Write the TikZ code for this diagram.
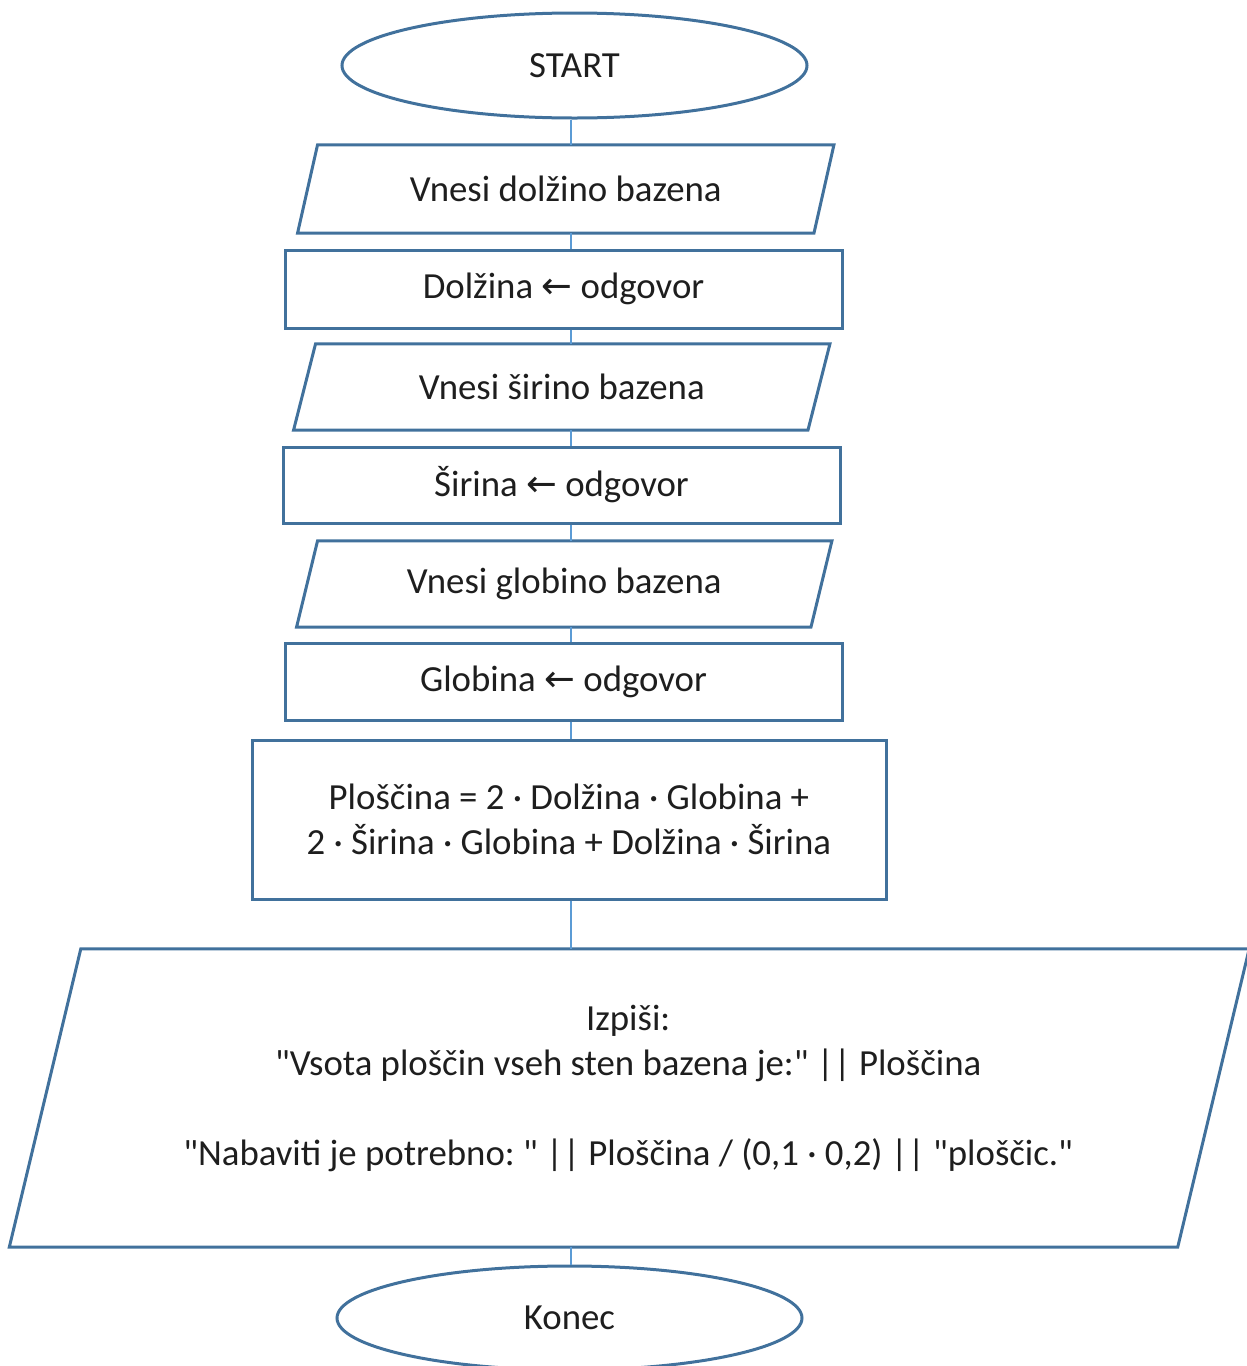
\documentclass[tikz,border=0pt]{standalone}
\usepackage{fontspec}
\setmainfont{Carlito}[Ligatures=TeXOff]
\newfontfamily\arrowfont{DejaVu Sans}
\usetikzlibrary{shapes.geometric,calc}
\definecolor{edgeblue}{HTML}{41719C}
\definecolor{linkblue}{HTML}{5B9BD5}
\definecolor{ink}{HTML}{1E1E1E}
\frenchspacing

% assignment arrow
\newcommand\assignarrow{{\arrowfont ←}}
% outline of an input/output step: a parallelogram round a named node
\newcommand\slanted[2]{%
  \draw[shapeline] ([xshift=#2]#1.north west) -- ([xshift=#2]#1.north east)
    -- ([xshift=-#2]#1.south east) -- ([xshift=-#2]#1.south west) -- cycle;}

\begin{document}
\begin{tikzpicture}[x=1pt, y=-1pt,
  every node/.style={font=\fontsize{36.8}{45}\selectfont, text=ink, inner sep=0pt, align=center},
  box/.style={rectangle, draw=edgeblue, line width=3pt},
  terminal/.style={ellipse, draw=edgeblue, line width=3pt},
  iotext/.style={rectangle},
  shapeline/.style={draw=edgeblue, line width=3pt, line join=miter},
  link/.style={draw=linkblue, line width=1.6pt}]

\useasboundingbox (0,0) rectangle (1247,1366);

% main axis of the flow
\coordinate (axis) at (571,0);

% terminals
\node[terminal, minimum width=465, minimum height=105] (start) at (574.5,65.5) {START};
\node[terminal, minimum width=465, minimum height=104] (stop) at (569.5,1318) {Konec};

% input steps
\node[iotext, minimum width=516, minimum height=88] (inlen) at (565.75,189) {Vnesi dolžino bazena};
\slanted{inlen}{10}
\node[iotext, minimum width=514, minimum height=86] (inwid) at (561.75,387) {Vnesi širino bazena};
\slanted{inwid}{11}
\node[iotext, minimum width=514, minimum height=86] (indep) at (564.25,584) {Vnesi globino bazena};
\slanted{indep}{10.5}

% assignments
\node[box, minimum width=557, minimum height=78] (setlen) at (563.5,289) {Dolžina \assignarrow{} odgovor};
\node[box, minimum width=557, minimum height=76] (setwid) at (561.5,485) {Širina \assignarrow{} odgovor};
\node[box, minimum width=557, minimum height=77] (setdep) at (563.5,681.5) {Globina \assignarrow{} odgovor};

% area computation
\node[box, minimum width=634, minimum height=159] (area) at (569,819.5)
  {Ploščina = 2 · Dolžina · Globina +\\ 2 · Širina · Globina + Dolžina · Širina};

% output step
\node[iotext, minimum width=1168, minimum height=298] (out) at (629.25,1098) {};
\slanted{out}{35.75}
\node (outmsg) at ($(out.center)+(-1,-10)$)
  {Izpiši:\\ "Vsota ploščin vseh sten bazena je:" || Ploščina\\[45pt]
   "Nabaviti je potrebno: " || Ploščina / (0,1 · 0,2) || "ploščic."};

% connectors
\draw[link] (axis |- start.south) -- (axis |- inlen.north);
\draw[link] (axis |- inlen.south) -- (axis |- setlen.north);
\draw[link] (axis |- setlen.south) -- (axis |- inwid.north);
\draw[link] (axis |- inwid.south) -- (axis |- setwid.north);
\draw[link] (axis |- setwid.south) -- (axis |- indep.north);
\draw[link] (axis |- indep.south) -- (axis |- setdep.north);
\draw[link] (axis |- setdep.south) -- (axis |- area.north);
\draw[link] (axis |- area.south) -- (axis |- out.north);
\draw[link] (axis |- out.south) -- (axis |- stop.north);
\end{tikzpicture}
\end{document}
